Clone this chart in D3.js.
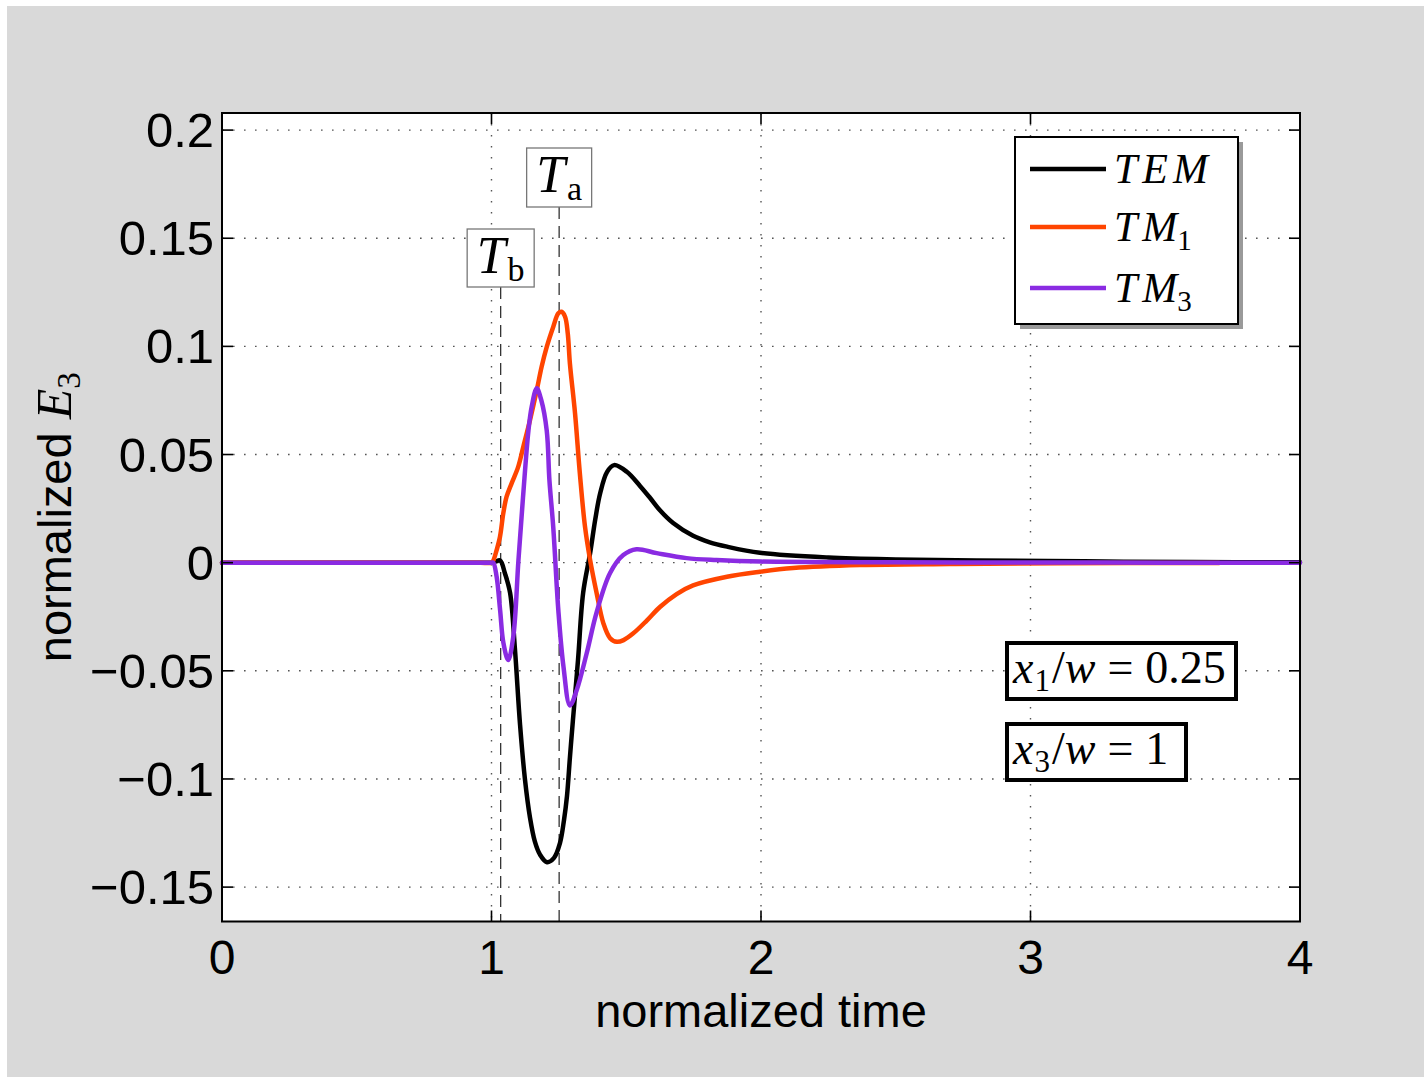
<!DOCTYPE html>
<html>
<head>
<meta charset="utf-8">
<script src="https://cdn.jsdelivr.net/npm/d3@7"></script>
<style>
  html, body { margin: 0; padding: 0; background: #fff; }
  svg { display: block; }
</style>
</head>
<body>
<div id="chart"></div>
<script>
// axis ticks
var xTicks = [0, 1, 2, 3, 4];
var yTicks = [-0.15, -0.1, -0.05, 0, 0.05, 0.1, 0.15, 0.2];
var yTickLabels = ["\u22120.15", "\u22120.1", "\u22120.05", "0", "0.05", "0.1", "0.15", "0.2"];

// marker times
var tb = 1.034;
var ta = 1.251;

// TEM (black)
var temT = [0, 0.25, 0.5, 0.75, 0.9, 0.96, 1.0, 1.015, 1.032, 1.05, 1.069, 1.087, 1.106, 1.124, 1.143, 1.161, 1.18, 1.206, 1.232, 1.254, 1.269, 1.28, 1.291, 1.302, 1.321, 1.34, 1.366, 1.385, 1.403, 1.429, 1.455, 1.502, 1.551, 1.588, 1.625, 1.674, 1.748, 1.81, 1.874, 1.996, 2.25, 2.5, 2.8, 3.2, 3.6, 4.0];
var temV = [0, 0, 0, 0, 0, 0, 0, 0.0005, 0.001, -0.005, -0.014, -0.04, -0.075, -0.1, -0.118, -0.129, -0.135, -0.1385, -0.1365, -0.1297, -0.119, -0.108, -0.09, -0.073, -0.045, -0.014, 0.0044, 0.02, 0.032, 0.042, 0.0451, 0.042, 0.0355, 0.03, 0.0242, 0.0183, 0.0124, 0.0094, 0.0074, 0.0046, 0.0024, 0.0015, 0.001, 0.0006, 0.0003, 0.0002];

// TM1 (orange)
var tm1T = [0, 0.25, 0.5, 0.75, 0.9, 0.96, 1.0, 1.0067, 1.019, 1.0315, 1.044, 1.056, 1.075, 1.099, 1.118, 1.143, 1.168, 1.186, 1.205, 1.229, 1.248, 1.26, 1.273, 1.283, 1.291, 1.31, 1.328, 1.347, 1.366, 1.39, 1.415, 1.44, 1.465, 1.49, 1.525, 1.576, 1.625, 1.687, 1.748, 1.874, 1.996, 2.119, 2.367, 2.7, 3.1, 3.7];
var tm1V = [0, 0, 0, 0, 0, 0, 0, 0.001, 0.0058, 0.012, 0.023, 0.0305, 0.0368, 0.0443, 0.0536, 0.066, 0.0798, 0.0906, 0.0998, 0.109, 0.1153, 0.116, 0.1137, 0.106, 0.092, 0.069, 0.041, 0.0166, 0.0012, -0.014, -0.028, -0.0349, -0.0366, -0.0358, -0.0328, -0.0268, -0.0205, -0.0145, -0.0105, -0.0065, -0.0042, -0.0025, -0.0011, -0.0006, -0.0003, -0.0001];

// TM3 (purple)
var tm3T = [0, 0.25, 0.5, 0.75, 0.9, 0.96, 1.0, 1.0067, 1.019, 1.032, 1.044, 1.062, 1.081, 1.1, 1.118, 1.137, 1.149, 1.168, 1.185, 1.205, 1.215, 1.229, 1.248, 1.267, 1.291, 1.316, 1.353, 1.39, 1.44, 1.489, 1.538, 1.613, 1.724, 1.835, 2.0, 2.5, 3.0, 3.5, 4.0];
var tm3V = [0, 0, 0, 0, 0, 0, 0, 0, -0.0065, -0.022, -0.037, -0.045, -0.034, 0.0012, 0.032, 0.061, 0.072, 0.0806, 0.075, 0.061, 0.038, 0.0166, -0.022, -0.048, -0.066, -0.059, -0.042, -0.023, -0.0048, 0.0035, 0.0062, 0.0044, 0.0021, 0.0012, 0.0005, 0.0002, 0.0001, 0, 0];

var seriesNames = ["TEM", "TM1", "TM3"];
var seriesColors = ["#000000", "#ff4500", "#8a2be2"];

var W = 1424, H = 1077;
var plot = { left: 222, right: 1300, top: 113, bottom: 921.5 };

var svg = d3.select("#chart").append("svg")
    .attr("width", W)
    .attr("height", H);

svg.append("rect").attr("width", W).attr("height", H).attr("fill", "#fff");
svg.append("rect").attr("x", 7).attr("y", 6).attr("width", W - 7).attr("height", H - 6).attr("fill", "#d9d9d9");

var x = d3.scaleLinear().domain([0, 4]).range([plot.left, plot.right]);
var y = d3.scaleLinear().domain([-0.1659, 0.2079]).range([plot.bottom, plot.top]);

svg.append("rect")
    .attr("x", plot.left).attr("y", plot.top)
    .attr("width", plot.right - plot.left).attr("height", plot.bottom - plot.top)
    .attr("fill", "#fff");

// grid
var grid = svg.append("g").attr("stroke", "#555").attr("stroke-width", 1.4).attr("stroke-dasharray", "1.6,9.4");
grid.selectAll(".gx").data(xTicks.slice(1, -1)).enter().append("line")
    .attr("x1", d => x(d)).attr("x2", d => x(d))
    .attr("y1", plot.top).attr("y2", plot.bottom);
grid.selectAll(".gy").data(yTicks).enter().append("line")
    .attr("x1", plot.left).attr("x2", plot.right)
    .attr("y1", d => y(d)).attr("y2", d => y(d));

// marker lines
var markers = [
    { t: tb, sub: "b", boxTop: 229, boxBottom: 287, w: 67 },
    { t: ta, sub: "a", boxTop: 148, boxBottom: 207, w: 65 }
];
svg.selectAll(".mline").data(markers).enter().append("line")
    .attr("x1", d => x(d.t)).attr("x2", d => x(d.t))
    .attr("y1", d => d.boxBottom).attr("y2", plot.bottom)
    .attr("stroke", "#333").attr("stroke-width", 1.3)
    .attr("stroke-dasharray", "12,7");

// curves
var line = d3.line().x(d => x(d[0])).y(d => y(d[1])).curve(d3.curveCatmullRom.alpha(0.5));
var seriesData = [
    d3.zip(temT, temV),
    d3.zip(tm1T, tm1V),
    d3.zip(tm3T, tm3V)
];
svg.selectAll(".curve").data(seriesData).enter().append("path")
    .attr("d", line)
    .attr("fill", "none")
    .attr("stroke", (d, i) => seriesColors[i])
    .attr("stroke-width", 4.5)
    .attr("stroke-linejoin", "round")
    .attr("stroke-linecap", "round");

// axes box and ticks
svg.append("rect")
    .attr("x", plot.left).attr("y", plot.top)
    .attr("width", plot.right - plot.left).attr("height", plot.bottom - plot.top)
    .attr("fill", "none").attr("stroke", "#000").attr("stroke-width", 2);

var tickLen = 11;
var ticks = svg.append("g").attr("stroke", "#000").attr("stroke-width", 1.6);
xTicks.forEach(function(t) {
    ticks.append("line").attr("x1", x(t)).attr("x2", x(t)).attr("y1", plot.bottom).attr("y2", plot.bottom - tickLen);
    ticks.append("line").attr("x1", x(t)).attr("x2", x(t)).attr("y1", plot.top).attr("y2", plot.top + tickLen);
});
yTicks.forEach(function(v) {
    ticks.append("line").attr("x1", plot.left).attr("x2", plot.left + tickLen).attr("y1", y(v)).attr("y2", y(v));
    ticks.append("line").attr("x1", plot.right).attr("x2", plot.right - tickLen).attr("y1", y(v)).attr("y2", y(v));
});

var sans = "'Liberation Sans', Arial, Helvetica, sans-serif";
var serif = "'Liberation Serif', 'Times New Roman', serif";

svg.selectAll(".xt").data(xTicks).enter().append("text")
    .attr("x", d => x(d)).attr("y", plot.bottom + 52)
    .attr("text-anchor", "middle")
    .attr("font-family", sans).attr("font-size", 48)
    .text(d => d);

svg.selectAll(".yt").data(yTicks).enter().append("text")
    .attr("x", plot.left - 8).attr("y", d => y(d) + 17)
    .attr("text-anchor", "end")
    .attr("font-family", sans).attr("font-size", 49)
    .text((d, i) => yTickLabels[i]);

// axis labels
svg.append("text")
    .attr("x", (plot.left + plot.right) / 2).attr("y", 1027)
    .attr("text-anchor", "middle")
    .attr("font-family", sans).attr("font-size", 47)
    .text("normalized time");

var yl = svg.append("text")
    .attr("transform", "translate(71," + ((plot.top + plot.bottom) / 2) + ") rotate(-90)")
    .attr("text-anchor", "middle")
    .attr("font-family", sans).attr("font-size", 47);
yl.append("tspan").text("normalized ");
yl.append("tspan").attr("font-family", serif).attr("font-style", "italic").attr("font-size", 50).text("E");
yl.append("tspan").attr("font-family", serif).attr("font-size", 33).attr("dy", 9).text("3");

// marker labels
markers.forEach(function(m) {
    var cx = x(m.t);
    svg.append("rect")
        .attr("x", cx - m.w / 2).attr("y", m.boxTop)
        .attr("width", m.w).attr("height", m.boxBottom - m.boxTop)
        .attr("fill", "#fff").attr("stroke", "#777").attr("stroke-width", 1.3);
    var tx = svg.append("text")
        .attr("x", cx).attr("y", m.boxTop + 44)
        .attr("text-anchor", "middle")
        .attr("font-family", serif);
    tx.append("tspan").attr("font-style", "italic").attr("font-size", 52).text("T");
    tx.append("tspan").attr("font-size", 34).attr("dx", 2).attr("dy", 8).text(m.sub);
});

// legend
var lg = { x: 1015, y: 137, w: 223, h: 187 };
svg.append("rect").attr("x", lg.x + 5).attr("y", lg.y + 5).attr("width", lg.w).attr("height", lg.h).attr("fill", "#9a9a9a");
svg.append("rect").attr("x", lg.x).attr("y", lg.y).attr("width", lg.w).attr("height", lg.h)
    .attr("fill", "#fff").attr("stroke", "#000").attr("stroke-width", 2);
var legendRows = [169, 227, 288];
seriesNames.forEach(function(name, i) {
    svg.append("line")
        .attr("x1", 1030).attr("x2", 1106)
        .attr("y1", legendRows[i]).attr("y2", legendRows[i])
        .attr("stroke", seriesColors[i]).attr("stroke-width", 4.5);
    var t = svg.append("text")
        .attr("x", 1114).attr("y", legendRows[i] + 14)
        .attr("font-family", serif).attr("font-size", 42)
        .attr("font-style", "italic");
    if (name === "TEM") {
        t.append("tspan").text("T");
        t.append("tspan").attr("dx", 5).text("E");
        t.append("tspan").attr("dx", 5).text("M");
    } else {
        t.append("tspan").text("T");
        t.append("tspan").attr("dx", 5).text("M");
        t.append("tspan").attr("font-style", "normal").attr("font-size", 29).attr("dy", 9).text(name.slice(2));
    }
});

// parameter boxes
var params = [
    { sub: "1", val: "0.25", top: 641, w: 233 },
    { sub: "3", val: "1", top: 722, w: 183 }
];
params.forEach(function(p) {
    svg.append("rect")
        .attr("x", 1007).attr("y", p.top + 2)
        .attr("width", p.w - 4).attr("height", 56)
        .attr("fill", "#fff").attr("stroke", "#000").attr("stroke-width", 4);
    var t = svg.append("text")
        .attr("x", 1013).attr("y", p.top + 42)
        .attr("font-family", serif).attr("font-size", 46);
    t.append("tspan").attr("font-style", "italic").text("x");
    t.append("tspan").attr("font-size", 31).attr("dx", 1).attr("dy", 8).text(p.sub);
    t.append("tspan").attr("dx", 2).attr("dy", -8).text("/");
    t.append("tspan").attr("font-style", "italic").text("w");
    t.append("tspan").attr("dx", 12).text("=");
    t.append("tspan").attr("dx", 12).text(p.val);
});
</script>
</body>
</html>
